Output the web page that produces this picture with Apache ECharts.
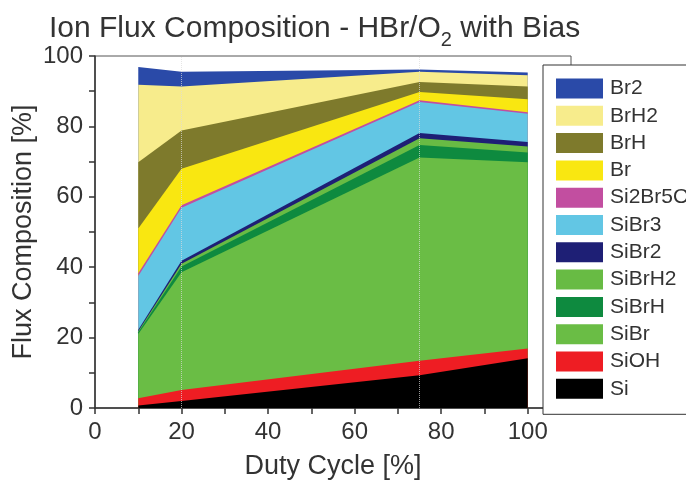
<!DOCTYPE html>
<html>
<head>
<meta charset="utf-8">
<title>Ion Flux Composition</title>
<script src="https://cdn.jsdelivr.net/npm/echarts@6/dist/echarts.min.js"></script>
<style>
  html, body { margin: 0; padding: 0; background: #fff; }
  #chart { width: 686px; height: 485px; }
</style>
</head>
<body>
<div id="chart"></div>
<script>
// duty cycle (%) where the flux was measured
const dutyCycle = [10, 20, 75, 100]

// composition per species (%), stacked bottom -> top
const si      = [0.7, 2.0, 9.3, 14.1]
const siOH    = [2.1, 3.1, 4.1, 2.8]
const siBr    = [18.2, 33.5, 57.8, 52.9]
const siBrH   = [0.5, 1.6, 3.5, 2.8]
const siBrH2  = [0.3, 0.8, 1.9, 1.7]
const siBr2   = [0.4, 0.8, 1.5, 1.3]
const siBr3   = [15.3, 15.1, 8.8, 8.0]
const si2Br5O = [0.8, 0.7, 0.5, 0.4]
const br      = [12.7, 10.4, 2.4, 3.7]
const brH     = [18.8, 10.8, 2.8, 3.6]
const brH2    = [22.0, 12.5, 2.9, 3.2]
const br2     = [5.1, 4.2, 0.7, 0.8]

const xTickLabels = [0, 20, 40, 60, 80, 100]
const yTickLabels = [0, 20, 40, 60, 80, 100]

const species = [
  { name: 'Si', values: si, color: '#000000' },
  { name: 'SiOH', values: siOH, color: '#ee1d23' },
  { name: 'SiBr', values: siBr, color: '#6abd45' },
  { name: 'SiBrH', values: siBrH, color: '#0e8a3f' },
  { name: 'SiBrH2', values: siBrH2, color: '#68bb44' },
  { name: 'SiBr2', values: siBr2, color: '#1e1f75' },
  { name: 'SiBr3', values: siBr3, color: '#62c6e4' },
  { name: 'Si2Br5O', values: si2Br5O, color: '#c24ea0' },
  { name: 'Br', values: br, color: '#f9e711' },
  { name: 'BrH', values: brH, color: '#7e7a2c' },
  { name: 'BrH2', values: brH2, color: '#f7ec8c' },
  { name: 'Br2', values: br2, color: '#2a4aa8' }
]

const font = "'Liberation Sans', Arial, sans-serif"
const textColor = '#333'

const chart = echarts.init(document.getElementById('chart'), null, { renderer: 'canvas' })

// echarts stacks on x when both axes are 'value', so build running totals here
// and draw each total filled down to 0, topmost layer first
let running = dutyCycle.map(() => 0)
const layers = species.map(s => {
  running = running.map((r, k) => r + s.values[k])
  return { name: s.name, color: s.color, tops: running.slice() }
})

const series = layers.slice().reverse().map((s, i) => {
  const item = {
    name: s.name,
    type: 'line',
    data: s.tops.map((v, k) => [dutyCycle[k], v]),
    showSymbol: false,
    symbol: 'none',
    lineStyle: { width: 0 },
    itemStyle: { color: s.color },
    areaStyle: { color: s.color, opacity: 1, origin: 'start' },
    z: 2
  }
  // faint dotted guide lines at the measured duty cycles
  if (i === layers.length - 1) {
    item.markLine = {
      silent: true,
      symbol: 'none',
      label: { show: false },
      lineStyle: { color: 'rgba(220,220,220,0.7)', type: 'dotted', width: 1 },
      data: [{ xAxis: 20 }, { xAxis: 75 }]
    }
  }
  return item
})

chart.setOption({
  animation: false,
  title: {
    text: '{a|Ion Flux Composition - HBr/O}{s|2}{a| with Bias}',
    left: 44,
    top: 6,
    textStyle: {
      fontWeight: 'normal',
      rich: {
        a: { fontSize: 30, fontFamily: font, fontWeight: 'normal', color: textColor, lineHeight: 36 },
        s: { fontSize: 20, fontFamily: font, fontWeight: 'normal', color: textColor, lineHeight: 36, padding: [22, 0, 0, 0] }
      }
    }
  },
  legend: {
    orient: 'vertical',
    left: 543,
    top: 65,
    data: species.map(s => s.name).reverse(),
    icon: 'rect',
    itemWidth: 47,
    itemHeight: 20,
    itemGap: 6.3,
    padding: [13, 30, 15, 13],
    backgroundColor: '#fff',
    borderColor: '#333',
    borderWidth: 1,
    selectedMode: false,
    textStyle: { fontSize: 21, fontFamily: font, color: textColor, padding: [0, 0, 0, 2] }
  },
  grid: {
    left: 95,
    right: 115,
    top: 56,
    bottom: 76,
    show: true,
    borderColor: '#555',
    borderWidth: 1,
    backgroundColor: 'transparent'
  },
  xAxis: {
    type: 'value',
    min: 0,
    max: 110,
    interval: 10,
    name: 'Duty Cycle [%]',
    nameLocation: 'middle',
    nameGap: 45,
    nameTextStyle: { fontSize: 27, fontFamily: font, color: textColor },
    axisLine: { show: true, onZero: false, lineStyle: { color: '#333', width: 1.5 } },
    axisTick: { show: true, inside: false, length: 6, lineStyle: { color: '#333', width: 1.5 } },
    axisLabel: {
      fontSize: 24,
      fontFamily: font,
      color: textColor,
      margin: 12,
      formatter: v => (xTickLabels.indexOf(v) > -1 ? String(v) : '')
    },
    splitLine: { show: false }
  },
  yAxis: {
    type: 'value',
    min: 0,
    max: 100,
    interval: 10,
    name: 'Flux Composition [%]',
    nameLocation: 'middle',
    nameGap: 58,
    nameMoveOverlap: false,
    nameTextStyle: { fontSize: 27, fontFamily: font, color: textColor },
    axisLine: { show: true, lineStyle: { color: '#333', width: 1.5 } },
    axisTick: { show: true, inside: false, length: 6, lineStyle: { color: '#333', width: 1.5 } },
    axisLabel: {
      fontSize: 24,
      fontFamily: font,
      color: textColor,
      margin: 12,
      formatter: v => (yTickLabels.indexOf(v) > -1 ? String(v) : '')
    },
    splitLine: { show: false }
  },
  series: series
})
</script>
</body>
</html>
